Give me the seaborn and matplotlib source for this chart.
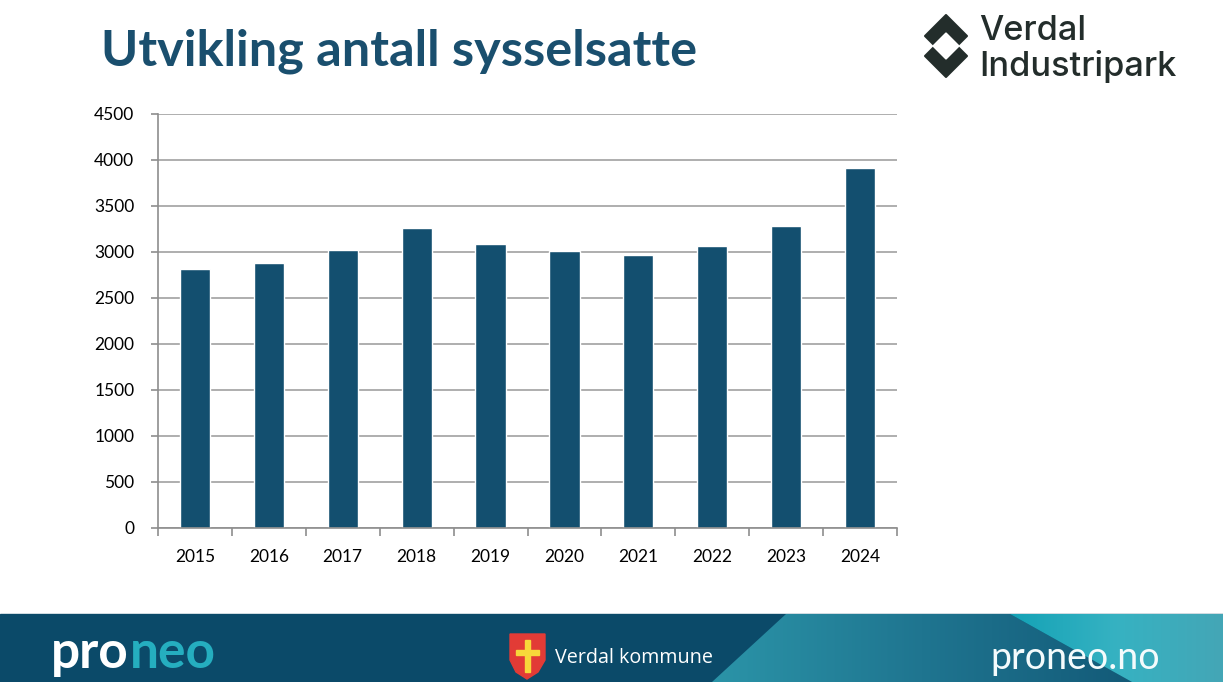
"""Utvikling antall sysselsatte, Verdal Industripark 2015-2024 (gjenskapt lysbilde)."""

import matplotlib
matplotlib.use("Agg")

import numpy as np
import pandas as pd
import matplotlib.pyplot as plt
from matplotlib.patches import Polygon
from matplotlib.colors import LinearSegmentedColormap
import seaborn as sns

YEARS = ["2015", "2016", "2017", "2018", "2019", "2020", "2021", "2022", "2023", "2024"]
SYSSELSATTE = [2810, 2880, 3020, 3260, 3085, 3010, 2965, 3065, 3280, 3910]
Y_TICKS = list(range(0, 4501, 500))

TITLE = "Utvikling antall sysselsatte"
BAR = "#134f6f"
TITLE_COL = "#1a4f6e"
GRID = "#a8a8a8"
FOOT = "#0b4a69"

sns.set_theme(style="white")
plt.rcParams["font.family"] = ["Lato", "DejaVu Sans"]

fig = plt.figure(figsize=(12.23, 6.82), dpi=100)

# bakgrunn i pikselkoordinater: tittel, logo, bunnfelt
bg = fig.add_axes([0, 0, 1, 1])
bg.set_xlim(0, 1223)
bg.set_ylim(682, 0)
bg.axis("off")

bg.text(101, 65, TITLE, fontsize=36.3, fontweight="bold", color=TITLE_COL, va="baseline")

# logo: to ruter der overlappet er hvitt
dark = "#232d2b"
for cy in (36, 56):
    bg.add_patch(Polygon([(946, cy - 21), (967, cy), (946, cy + 21), (925, cy)],
                         closed=True, color=dark, joinstyle="round", lw=1.5))
bg.add_patch(Polygon([(946, 33), (959, 46), (946, 59), (933, 46)], closed=True, color="white"))
bg.text(979, 40, "Verdal", fontsize=24.7, color=dark, fontweight="medium", va="baseline",
        family=["Inter", "DejaVu Sans"])
bg.text(979, 76, "Industripark", fontsize=24.7, color=dark, fontweight="medium", va="baseline",
        family=["Inter", "DejaVu Sans"])

# bunnfelt med skrå gradientfelt
bg.add_patch(Polygon([(0, 614), (1223, 614), (1223, 682), (0, 682)], closed=True, color=FOOT))
grad = np.linspace(0, 1, 256).reshape(1, -1)
mid = Polygon([(786, 614), (1010, 614), (1132, 682), (712, 682)], closed=True,
              facecolor="none", edgecolor="none")
bg.add_patch(mid)
cm_mid = LinearSegmentedColormap.from_list("mid", ["#2b94a8", "#1f7590", "#135a78"])
im = bg.imshow(grad, cmap=cm_mid, extent=(712, 1132, 682, 614), aspect="auto", zorder=1)
im.set_clip_path(mid)
right = Polygon([(1010, 614), (1223, 614), (1223, 682), (1132, 682)], closed=True,
                facecolor="none", edgecolor="none")
bg.add_patch(right)
cm_r = LinearSegmentedColormap.from_list("r", ["#14a2b6", "#36b2c2", "#44a6b6"])
im2 = bg.imshow(grad, cmap=cm_r, extent=(1010, 1223, 682, 614), aspect="auto", zorder=1)
im2.set_clip_path(right)

t_pro = bg.text(51, 668, "pro", fontsize=37, fontweight="bold", color="white",
                va="baseline", zorder=3)
fig.canvas.draw()
bb = t_pro.get_window_extent().transformed(bg.transData.inverted())
bg.text(bb.x1 + 1, 668, "neo", fontsize=37, fontweight="bold", color="#25aebf",
        va="baseline", zorder=3)

# kommunevåpen
bg.add_patch(Polygon([(510, 634), (545, 634), (545, 660), (538, 672), (527, 679),
                      (516, 672), (510, 660)], closed=True, color="#e23b36", zorder=3))
cross = [(525, 640), (530, 640), (530, 650), (539, 650), (539, 655), (530, 655),
         (530, 672), (525, 672), (525, 655), (516, 655), (516, 650), (525, 650)]
bg.add_patch(Polygon(cross, closed=True, color="#f7d83a", zorder=4))
bg.text(555, 663, "Verdal kommune", fontsize=14.2, color="white", va="baseline",
        family=["Open Sans", "DejaVu Sans"], zorder=3)
bg.text(990, 669, "proneo.no", fontsize=27, color="#f4fbfc", va="baseline",
        family=["Lato", "DejaVu Sans"], zorder=3)

# selve diagrammet
ax = fig.add_axes([158 / 1223, 154 / 682, 739 / 1223, 414 / 682])
ax.patch.set_alpha(0)
df = pd.DataFrame({"år": YEARS, "sysselsatte": SYSSELSATTE})
sns.barplot(df, x="år", y="sysselsatte", color=BAR, saturation=1, width=0.41, ax=ax)

ax.set_ylim(0, 4500)
ax.set_yticks(Y_TICKS)
ax.set_xlim(-0.5, len(YEARS) - 0.5)
ax.set_xticks(np.arange(-0.5, len(YEARS)), minor=True)
ax.set(xlabel="", ylabel="")
ax.yaxis.grid(True, color=GRID, lw=1.3)
ax.set_axisbelow(True)
for s in ("top", "right"):
    ax.spines[s].set_visible(False)
for s in ("left", "bottom"):
    ax.spines[s].set_color("#8e8e8e")
    ax.spines[s].set_linewidth(1.2)
ax.tick_params(axis="y", left=True, length=5, width=1.2, color="#8e8e8e", pad=12,
               labelsize=12.5, labelcolor="black")
ax.tick_params(axis="x", which="major", bottom=False, length=0, pad=15,
               labelsize=12.5, labelcolor="black")
ax.tick_params(axis="x", which="minor", bottom=True, length=6, width=1.2, color="#8e8e8e")

fig.savefig("out.png", dpi=100)
